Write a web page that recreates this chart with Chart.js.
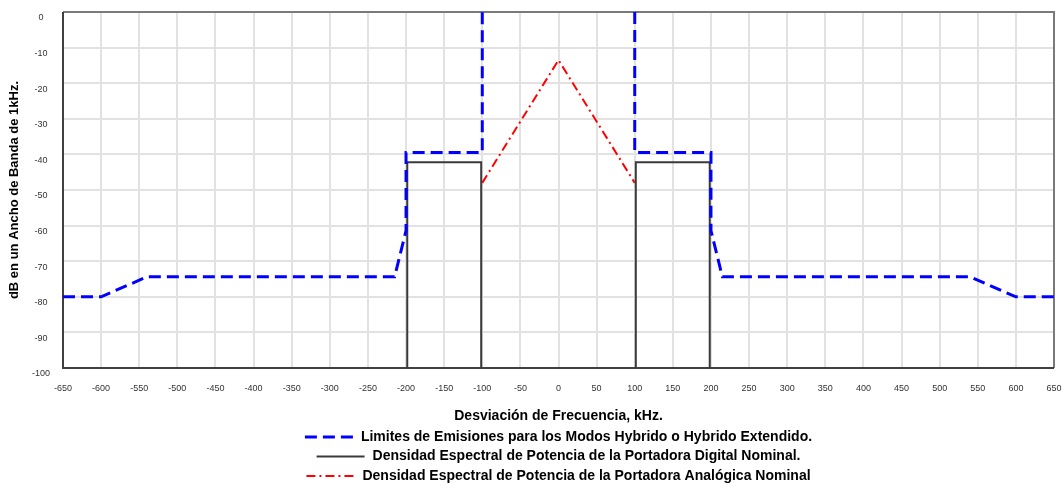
<!DOCTYPE html>
<html lang="es">
<head>
<meta charset="UTF-8">
<title>Máscara de emisiones FM híbrida</title>
<script src="https://cdn.jsdelivr.net/npm/chart.js"></script>
<style>
  body { margin: 0; background: #fff; }
  #wrap { width: 1062px; height: 485px; }
</style>
</head>
<body>
<div id="wrap"><canvas id="maskChart"></canvas></div>
<script>
// emission mask (kHz, dB); null y = gap between the two sides
const maskFreq = [-650, -600, -540, -215, -200, -200, -100, -100, 0, 100, 100, 200, 200, 215, 540, 600, 650];
const maskDb   = [-80, -80, -74.4, -74.4, -61.4, -39.5, -39.5, 0, null, 0, -39.5, -39.5, -61.4, -74.4, -74.4, -80, -80];

// nominal digital sidebands
const digitalFreq = [-198.4, -198.4, -101.4, -101.4, 0, 101.4, 101.4, 198.4, 198.4];
const digitalDb   = [-100, -42.2, -42.2, -100, null, -100, -42.2, -42.2, -100];

// nominal analog carrier
const analogFreq = [-100, 0, 100];
const analogDb   = [-48, -13.5, -48];

const seriesLabels = [
  "Limites de Emisiones para los Modos Hybrido o Hybrido Extendido.",
  "Densidad Espectral de Potencia de la Portadora Digital Nominal.",
  "Densidad Espectral de Potencia de la Portadora Analógica Nominal"
];
const xTitle = "Desviación de Frecuencia, kHz.";
const yTitle = "dB en un Ancho de Banda de 1kHz.";

const FONT = "'Liberation Sans', Arial, sans-serif";

function toPoints(xs, ys) {
  return xs.map((x, i) => ({ x: x, y: ys[i] }));
}

// frame round the plot and the stacked legend underneath
const frameAndLegend = {
  id: "frameAndLegend",
  beforeDatasetsDraw(chart) {
    const { ctx, chartArea: a } = chart;
    ctx.save();
    ctx.lineWidth = 2;
    ctx.strokeStyle = "#7a7a7a";
    ctx.beginPath();
    ctx.moveTo(a.left, a.top); ctx.lineTo(a.right, a.top); ctx.lineTo(a.right, a.bottom);
    ctx.stroke();
    ctx.strokeStyle = "#404040";
    ctx.beginPath();
    ctx.moveTo(a.left, a.top); ctx.lineTo(a.left, a.bottom); ctx.lineTo(a.right, a.bottom);
    ctx.stroke();
    ctx.restore();
  },
  afterDraw(chart) {
    const { ctx, chartArea: a } = chart;
    const cx = (a.left + a.right) / 2;
    const sample = 48, gap = 8;
    ctx.save();
    ctx.font = "bold 14px " + FONT;
    ctx.textBaseline = "middle";
    ctx.fillStyle = "#000";
    chart.data.datasets.forEach((ds, i) => {
      const y = a.bottom + 69 + i * 19.5;
      const tw = ctx.measureText(ds.label).width;
      const x0 = cx - (sample + gap + tw) / 2;
      ctx.save();
      ctx.strokeStyle = ds.borderColor;
      ctx.lineWidth = ds.borderWidth;
      ctx.setLineDash(ds.borderDash || []);
      ctx.beginPath();
      ctx.moveTo(x0, y); ctx.lineTo(x0 + sample, y);
      ctx.stroke();
      ctx.restore();
      ctx.fillText(ds.label, x0 + sample + gap, y);
    });
    ctx.restore();
  }
};

new Chart(document.getElementById("maskChart"), {
  type: "line",
  data: {
    datasets: [
      {
        label: seriesLabels[0],
        data: toPoints(maskFreq, maskDb),
        borderColor: "#0000ff",
        borderWidth: 3,
        borderDash: [12, 6]
      },
      {
        label: seriesLabels[1],
        data: toPoints(digitalFreq, digitalDb),
        borderColor: "#3a3a3a",
        borderWidth: 2
      },
      {
        label: seriesLabels[2],
        data: toPoints(analogFreq, analogDb),
        borderColor: "#ff0000",
        borderWidth: 2,
        borderDash: [9, 4, 2, 4]
      }
    ]
  },
  options: {
    responsive: true,
    maintainAspectRatio: false,
    animation: false,
    layout: { padding: { top: 12, right: 8, bottom: 60, left: 0 } },
    elements: { point: { radius: 0, hoverRadius: 0 }, line: { tension: 0 } },
    plugins: { legend: { display: false }, tooltip: { enabled: false } },
    scales: {
      x: {
        type: "linear",
        min: -650,
        max: 650,
        afterFit(scale) { scale.height = 57; scale.paddingLeft = 0; scale.paddingRight = 0; },
        border: { display: false },
        grid: { color: "#e2e2e2", lineWidth: 2, drawTicks: false },
        ticks: { stepSize: 50, padding: 15, color: "#333", font: { family: FONT, size: 9 }, maxRotation: 0, autoSkip: false },
        title: { display: true, text: xTitle, color: "#000", font: { family: FONT, size: 14, weight: "bold" }, padding: { top: 0, bottom: 0 } }
      },
      y: {
        min: -100,
        max: 0,
        afterFit(scale) { scale.width = 63; scale.paddingTop = 0; scale.paddingBottom = 0; },
        border: { display: false },
        grid: { color: "#e2e2e2", lineWidth: 2, drawTicks: false },
        ticks: { stepSize: 10, padding: 13, labelOffset: 6, crossAlign: "center", color: "#333", font: { family: FONT, size: 9 } },
        title: { display: true, text: yTitle, color: "#000", font: { family: FONT, size: 13, weight: "bold" }, padding: { top: 7, bottom: 0 } }
      }
    }
  },
  plugins: [frameAndLegend]
});
</script>
</body>
</html>
